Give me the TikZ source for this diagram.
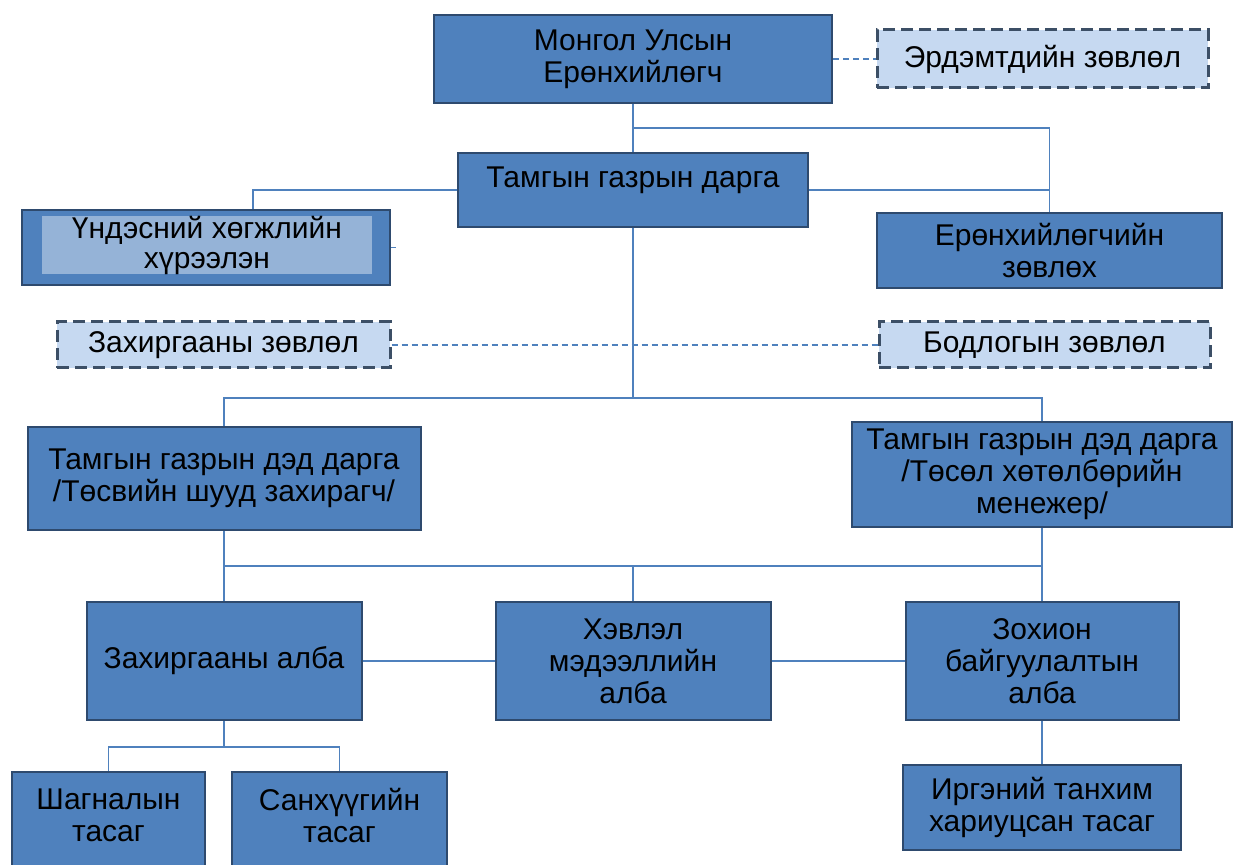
\documentclass[tikz,border=0pt]{standalone}
\usepackage{fontspec}
\setmainfont{Liberation Sans}
\usetikzlibrary{calc}
\definecolor{box_blue}{HTML}{4F81BD}
\definecolor{box_line}{HTML}{2E4A6E}
\definecolor{light_blue}{HTML}{C6D9F1}
\definecolor{mid_blue}{HTML}{95B3D7}
\definecolor{dash_line}{HTML}{3C4F66}

\begin{document}
\begin{tikzpicture}[x=0.5pt,y=-0.5pt,
    box/.style={draw=box_line, fill=box_blue, line width=1pt, align=center, inner sep=0pt, font=\fontsize{15}{16}\selectfont},
    council/.style={box, draw=dash_line, fill=light_blue, dash pattern=on 6pt off 3pt, line width=1.5pt},
    conn/.style={box_blue, line width=0.8pt},
    link/.style={conn, dash pattern=on 3pt off 2pt}]
        % Fond
        \fill[white] (0,0) rectangle (1235,865);
        \useasboundingbox (0,0) rectangle (1235,865);

        % Ерөнхийлөгч
        \node[box, minimum width=199pt, minimum height=44pt] (pres) at (633,59) {Монгол Улсын\\Ерөнхийлөгч};
        \node[council, minimum width=165.5pt, minimum height=29pt] (erdem) at (1042.5,59) {Эрдэмтдийн зөвлөл};

        % Тамгын газар
        \node[box, minimum width=175pt, minimum height=37pt, text depth=13pt] (tamga) at (633,190) {Тамгын газрын дарга};
        \node[box, minimum width=184pt, minimum height=37.5pt] (undes) at (206,247.5) {};
        \node[box, draw=none, fill=mid_blue, minimum width=165pt, minimum height=27pt, font=\fontsize{15}{15}\selectfont] (undes_txt) at (207,245) {Үндэсний хөгжлийн\\хүрээлэн};
        \node[box, minimum width=172.5pt, minimum height=37.5pt] (erzov) at (1049.5,250.5) {Ерөнхийлөгчийн\\зөвлөх};

        % Зөвлөл
        \node[council, minimum width=166.5pt, minimum height=23pt] (zahzov) at (223.5,345) {Захиргааны зөвлөл};
        \node[council, minimum width=165.5pt, minimum height=23pt] (bodzov) at (1044.5,345) {Бодлогын зөвлөл};

        % Дэд дарга
        \node[box, minimum width=196.5pt, minimum height=51.5pt] (ded1) at (224,478.5) {Тамгын газрын дэд дарга\\/Төсвийн шууд захирагч/};
        \node[box, minimum width=190pt, minimum height=52.5pt] (ded2) at (1042,474.5) {Тамгын газрын дэд дарга\\/Төсөл хөтөлбөрийн\\менежер/};

        % Алба
        \node[box, minimum width=137.5pt, minimum height=59pt] (zalba) at (224,661) {Захиргааны алба};
        \node[box, minimum width=137.5pt, minimum height=59pt] (hevlel) at (633,661) {Хэвлэл\\мэдээллийн\\алба};
        \node[box, minimum width=136.5pt, minimum height=59pt] (zohion) at (1042,661) {Зохион\\байгуулалтын\\алба};

        % Тасаг
        \node[box, minimum width=96.5pt, minimum height=59pt] (shagnal) at (108.5,831) {Шагналын\\тасаг\\ \mbox{}};
        \node[box, minimum width=107.5pt, minimum height=59pt] (sanhuu) at (339.5,831) {Санхүүгийн\\тасаг\\ \mbox{}};
        \node[box, minimum width=139pt, minimum height=42.5pt] (irgen) at (1042,807.5) {Иргэний танхим\\хариуцсан тасаг};

        % Холбоос
        \draw[link] (pres) -- (erdem);
        \draw[conn] (pres) -- (tamga);
        \draw[conn] ($(pres.south)!0.5!(tamga.north)$) -| (erzov);
        \draw[conn] (tamga) -- (tamga -| erzov);
        \draw[conn] (tamga) -| ($(undes.north)+(47,0)$);
        \draw[conn] (undes.east) -- ++(5,0);
        \draw[link] (zahzov) -- (bodzov);

        \draw[conn] (tamga.south) -- ++(0,170) coordinate (b1);
        \draw[conn] (ded1) |- (b1) -| (ded2);

        \coordinate (b2) at ($(ded1.south)!0.5!(zalba.north)$);
        \draw[conn] (ded1) -- (zalba);
        \draw[conn] (ded2) -- (zohion);
        \draw[conn] (b2) -- (b2 -| zohion);
        \draw[conn] (hevlel) -- (hevlel |- b2);

        \draw[conn, line width=1.1pt] (zalba) -- (hevlel);
        \draw[conn, line width=1.1pt] (hevlel) -- (zohion);

        \draw[conn] (zalba.south) -- ++(0,26) coordinate (b3);
        \draw[conn] (shagnal) |- (b3) -| (sanhuu);
        \draw[conn] (zohion) -- (irgen);
\end{tikzpicture}
\end{document}
